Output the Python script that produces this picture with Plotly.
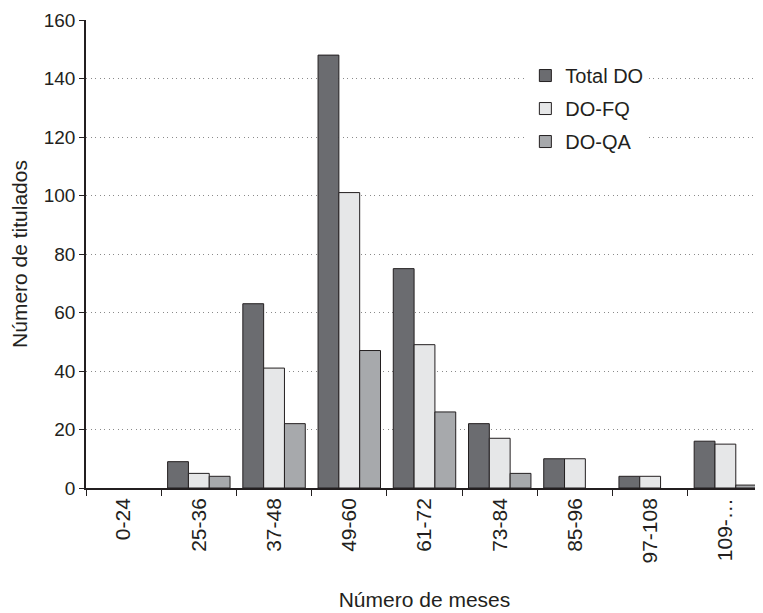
import plotly.graph_objects as go

categories = ["0-24", "25-36", "37-48", "49-60", "61-72", "73-84", "85-96", "97-108", "109-…"]
total_do = [0, 9, 63, 148, 75, 22, 10, 4, 16]
do_fq = [0, 5, 41, 101, 49, 17, 10, 4, 15]
do_qa = [0, 4, 22, 47, 26, 5, 0, 0, 1]

y_ticks = [0, 20, 40, 60, 80, 100, 120, 140, 160]

font_family = "Liberation Sans, Arial, sans-serif"
outline = dict(color="#231f20", width=1)


def drawn(values):
    # zero-height bars are not drawn in the original chart
    return [v if v != 0 else None for v in values]


fig = go.Figure()
fig.add_trace(go.Bar(name="Total DO", x=categories, y=drawn(total_do), legendgroup="a",
                     marker=dict(color="#6b6c70", line=outline)))
fig.add_trace(go.Bar(name="DO-FQ", x=categories, y=drawn(do_fq), legendgroup="b",
                     marker=dict(color="#e6e7e8", line=outline)))
fig.add_trace(go.Bar(name="DO-QA", x=categories, y=drawn(do_qa), legendgroup="c",
                     marker=dict(color="#a7a9ac", line=outline)))

# page body has an 8px margin, so the figure is sized to the remaining area
fig.update_layout(
    width=755, height=605,
    margin=dict(l=78, r=0, t=12, b=125),
    paper_bgcolor="white", plot_bgcolor="white",
    font=dict(family=font_family, size=19, color="#231f20"),
    barmode="group", bargap=0.17, bargroupgap=0,
    showlegend=True,
    legend=dict(x=0.649, y=0.923, xanchor="left", yanchor="top",
                bgcolor="white", font=dict(size=20, color="#231f20"),
                tracegroupgap=4, itemwidth=30),
)
fig.update_xaxes(
    type="category", categoryorder="array", categoryarray=categories,
    tickson="boundaries", ticks="outside", ticklen=6,
    tickcolor="#231f20", tickangle=-90, showline=True, linecolor="#231f20",
    linewidth=1.5, showgrid=False, automargin=False,
    title=dict(text="Número de meses", font=dict(size=21), standoff=30),
    tickfont=dict(size=21),
)
fig.update_yaxes(
    range=[0, 160], tickvals=y_ticks, ticks="outside", ticklen=5,
    tickcolor="#231f20", showline=True, linecolor="#231f20", linewidth=1.5,
    showgrid=True, gridcolor="#8a8a8a", gridwidth=1, griddash="1px,3.5px",
    zeroline=False, automargin=False,
    title=dict(text="Número de titulados", font=dict(size=21), standoff=14),
    tickfont=dict(size=19),
)

fig.write_html("out.html")
